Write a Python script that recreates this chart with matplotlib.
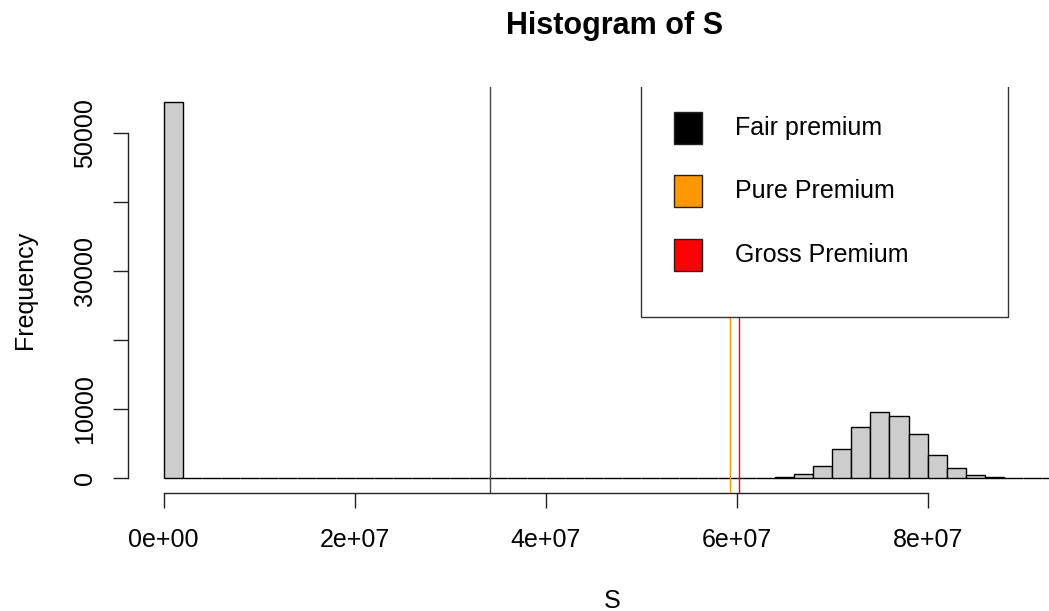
import numpy as np
import matplotlib
matplotlib.use("Agg")
import matplotlib.pyplot as plt
from matplotlib.patches import Rectangle

plt.rcParams['font.family'] = ['Liberation Sans', 'DejaVu Sans']

# histogram of S, bins of width 2e6 from 0 to 9.4e7
bin_width = 2e6
counts = [54580, 0, 0, 0, 0, 0, 0, 0, 0, 0,
          0, 0, 0, 0, 0, 0, 0, 0, 0, 0,
          0, 0, 0, 0, 0, 0, 0, 0, 0, 0,
          0, 0, 220, 640, 1800, 4300, 7490, 9620, 8990, 6430,
          3430, 1450, 430, 130, 40, 10, 2]
bin_left = np.arange(len(counts)) * bin_width

premium_names = ["Fair premium", "Pure Premium", "Gross Premium"]
premium_values = [34.2e6, 59.3e6, 60.2e6]
premium_colors = ["#444444", "#FF9800", "#FF0000"]
legend_fill = ["black", "#FF9800", "#FF0000"]

xticks = [0, 2e7, 4e7, 6e7, 8e7]
xtick_labels = ["0e+00", "2e+07", "4e+07", "6e+07", "8e+07"]
yticks = [0, 10000, 20000, 30000, 40000, 50000]
ytick_labels = ["0", "10000", "", "30000", "", "50000"]

W, H = 1049, 611
fig = plt.figure(figsize=(W / 100, H / 100), dpi=100)
# plot region runs past the right edge, like the cropped R device
ax = fig.add_axes([127.7 / W, (H - 493.4) / H, (1097.3 - 127.7) / W, (493.4 - 86.6) / H])

ax.bar(bin_left, counts, width=bin_width, align='edge', color='#CDCDCD',
       edgecolor='black', linewidth=1.0, zorder=2)

for v, c in zip(premium_values, premium_colors):
    ax.axvline(v, color=c, linewidth=1.0, zorder=3)

xmax = bin_left[-1] + bin_width
ymax = max(counts)
ax.set_xlim(-0.04 * xmax, 1.04 * xmax)
ax.set_ylim(-0.04 * ymax, 1.04 * ymax)

# R style axes
for s in ['top', 'right']:
    ax.spines[s].set_visible(False)
ax.spines['bottom'].set_bounds(xticks[0], xticks[-1])
ax.spines['left'].set_bounds(yticks[0], yticks[-1])
for s in ['bottom', 'left']:
    ax.spines[s].set_color('#222222')
    ax.spines[s].set_linewidth(1.0)

ax.set_xticks(xticks)
ax.set_xticklabels(xtick_labels)
ax.set_yticks(yticks)
ax.set_yticklabels(ytick_labels, rotation=90, va='center')
ax.tick_params(axis='both', direction='out', length=11, width=1.0, color='#222222',
               labelsize=18)
ax.tick_params(axis='x', pad=14)
ax.tick_params(axis='y', pad=11)

# legend box, clipped by the plot region at the top
leg_x0, leg_x1, leg_y0 = 50e6, 88.4e6, 23400
ax.add_patch(Rectangle((leg_x0, leg_y0), leg_x1 - leg_x0, 60000, facecolor='white',
                       edgecolor='#333333', linewidth=1.0, zorder=5, clip_on=True))
leg_y = [50725, 41580, 32420]
for name, fc, y in zip(premium_names, legend_fill, leg_y):
    ax.add_patch(Rectangle((53.47e6, y - 2320), 2.9e6, 4640, facecolor=fc,
                           edgecolor='#222222', linewidth=1.0, zorder=6))
    ax.text(59.8e6, y, name, fontsize=18, va='center', ha='left', zorder=7)

fig.text(615 / W, 1 - 26 / H, "Histogram of S", fontsize=22, fontweight='bold',
         ha='center', va='center')
fig.text(612 / W, 1 - 601 / H, "S", fontsize=18, ha='center', va='center')
fig.text(25 / W, 1 - 290 / H, "Frequency", fontsize=18, rotation=90,
         ha='center', va='center')

fig.savefig("out.png", dpi=100)
